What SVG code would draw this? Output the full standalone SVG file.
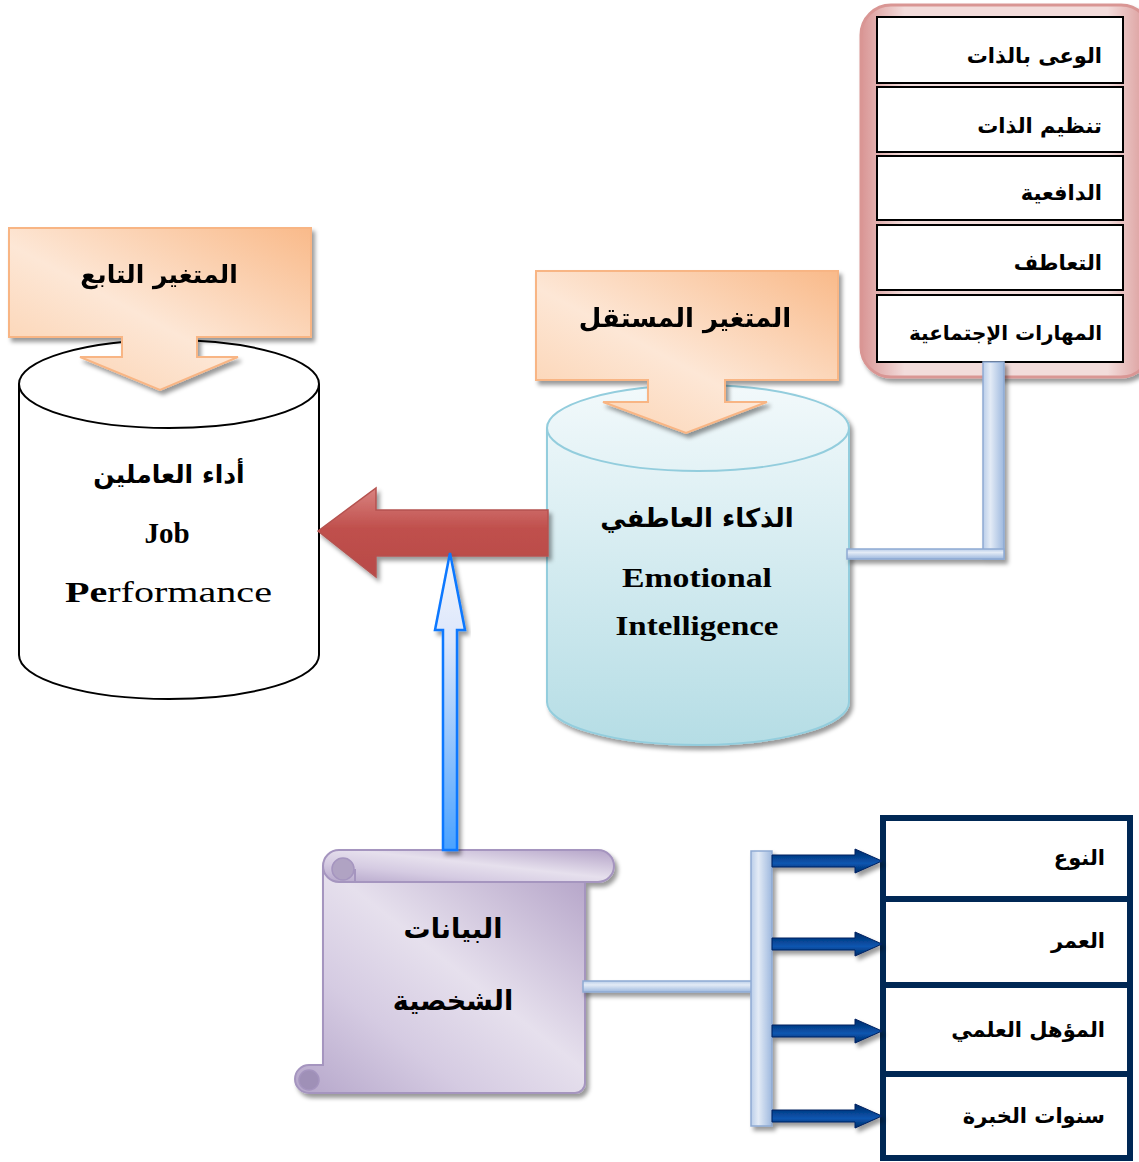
<svg xmlns="http://www.w3.org/2000/svg" width="1139" height="1162" viewBox="0 0 1139 1162">
  <style>
    .ar { font-family: "DejaVu Sans", sans-serif; font-weight: bold; fill: #000; }
    .en { font-family: "Liberation Serif", serif; fill: #000; }
    .cell { fill: #fff; stroke: #000; stroke-width: 2; }
    .navy-cell { fill: #fff; stroke: #002855; stroke-width: 6; }
    .pipe { fill: url(#pipeV); stroke: #8eaad3; stroke-width: 1.5; }
    .pipeH { fill: url(#pipeH); stroke: #8eaad3; stroke-width: 1.5; }
    .shadowed { filter: url(#shadow); }
  </style>
  <defs>
    <filter id="shadow" x="-10%" y="-10%" width="130%" height="130%">
      <feDropShadow dx="3" dy="4" stdDeviation="2" flood-color="#000" flood-opacity="0.4"/>
    </filter>
    <linearGradient id="orange" x1="1" y1="0" x2="0" y2="1">
      <stop offset="0" stop-color="#f9ba8a"/>
      <stop offset="0.55" stop-color="#fde7d6"/>
      <stop offset="1" stop-color="#fbcfab"/>
    </linearGradient>
    <linearGradient id="pink" x1="0" y1="0" x2="1" y2="0">
      <stop offset="0" stop-color="#d99594"/>
      <stop offset="0.15" stop-color="#f2dcdb"/>
      <stop offset="0.85" stop-color="#f2dcdb"/>
      <stop offset="1" stop-color="#d99594"/>
    </linearGradient>
    <linearGradient id="teal" x1="0" y1="0" x2="0" y2="1">
      <stop offset="0" stop-color="#f2f9fb"/>
      <stop offset="1" stop-color="#b5dde5"/>
    </linearGradient>
    <linearGradient id="red" x1="0" y1="0" x2="0" y2="1">
      <stop offset="0" stop-color="#d98380"/>
      <stop offset="0.45" stop-color="#c0504d"/>
      <stop offset="1" stop-color="#b84a47"/>
    </linearGradient>
    <linearGradient id="blueUp" x1="0" y1="0" x2="0" y2="1">
      <stop offset="0" stop-color="#f3f6fc"/>
      <stop offset="0.3" stop-color="#dbe6fb"/>
      <stop offset="1" stop-color="#4aa2ff"/>
    </linearGradient>
    <linearGradient id="pipeV" x1="0" y1="0" x2="1" y2="0">
      <stop offset="0" stop-color="#b9cde9"/>
      <stop offset="0.35" stop-color="#e3ebf6"/>
      <stop offset="1" stop-color="#9db8de"/>
    </linearGradient>
    <linearGradient id="pipeH" x1="0" y1="0" x2="0" y2="1">
      <stop offset="0" stop-color="#b9cde9"/>
      <stop offset="0.35" stop-color="#e3ebf6"/>
      <stop offset="1" stop-color="#9db8de"/>
    </linearGradient>
    <linearGradient id="scroll" x1="1" y1="0" x2="0" y2="1">
      <stop offset="0" stop-color="#b3a2c7"/>
      <stop offset="0.45" stop-color="#e6e0ed"/>
      <stop offset="0.7" stop-color="#d5cbe2"/>
      <stop offset="1" stop-color="#b5a6ca"/>
    </linearGradient>
    <linearGradient id="navyHead" x1="0" y1="0" x2="0" y2="1">
      <stop offset="0" stop-color="#002a66"/>
      <stop offset="0.6" stop-color="#0a56b0"/>
      <stop offset="1" stop-color="#002a66"/>
    </linearGradient>
    <path id="navyArrow" d="M0,-6 H83 V-12 L110,0 L83,12 V6 H0 Z"/>
  </defs>

  <!-- dependent variable: job performance -->
  <g id="node-job-performance">
    <path d="M19,384 V655 A150,44 0 0 0 319,655 V384 A150,44 0 0 0 19,384 Z" fill="#fff" stroke="#000" stroke-width="2"/>
    <path d="M19,384 A150,44 0 0 0 319,384" fill="none" stroke="#000" stroke-width="2"/>
    <text class="ar" x="169" y="483" font-size="25" text-anchor="middle">أداء العاملين</text>
    <text class="en" x="167" y="543" font-size="29" font-weight="bold" text-anchor="middle">Job</text>
    <text class="en" x="65" y="602" font-size="30" textLength="207" lengthAdjust="spacingAndGlyphs"><tspan font-weight="bold">Pe</tspan>rformance</text>
  </g>

  <!-- label banner: dependent variable -->
  <g id="node-dependent-label" class="shadowed">
    <path d="M9,228 H311 V337 H197 V357 H238 L160,390 L80,357 H122 V337 H9 Z" fill="url(#orange)" stroke="#f8b584" stroke-width="2"/>
    <text class="ar" x="159" y="283" font-size="25" text-anchor="middle">المتغير التابع</text>
  </g>

  <!-- independent variable: emotional intelligence -->
  <g id="node-emotional-intelligence" class="shadowed">
    <path d="M547,428 V702 A151,43 0 0 0 849,702 V428 A151,43 0 0 0 547,428 Z" fill="url(#teal)" stroke="#93cddd" stroke-width="2"/>
    <path d="M547,428 A151,43 0 0 0 849,428" fill="none" stroke="#93cddd" stroke-width="2"/>
  </g>
  <g id="node-ei-text">
    <text class="ar" x="697" y="527" font-size="26" text-anchor="middle">الذكاء العاطفي</text>
    <text class="en" x="697" y="587" font-size="28" font-weight="bold" text-anchor="middle" textLength="150" lengthAdjust="spacingAndGlyphs">Emotional</text>
    <text class="en" x="697" y="635" font-size="28" font-weight="bold" text-anchor="middle" textLength="163" lengthAdjust="spacingAndGlyphs">Intelligence</text>
  </g>

  <!-- label banner: independent variable -->
  <g id="node-independent-label" class="shadowed">
    <path d="M536,271 H838 V380 H725 V402 H767 L686,433 L603,402 H648 V380 H536 Z" fill="url(#orange)" stroke="#f8b584" stroke-width="2"/>
    <text class="ar" x="685" y="327" font-size="26" text-anchor="middle">المتغير المستقل</text>
  </g>

  <!-- emotional intelligence dimensions -->
  <g id="node-ei-dimensions">
    <rect class="shadowed" x="861" y="5" width="290" height="372" rx="30" fill="url(#pink)" stroke="#d99694" stroke-width="3"/>
    <rect class="cell" x="877" y="17" width="246" height="66"/>
    <rect class="cell" x="877" y="87" width="246" height="65"/>
    <rect class="cell" x="877" y="156" width="246" height="64"/>
    <rect class="cell" x="877" y="225" width="246" height="65"/>
    <rect class="cell" x="877" y="295" width="246" height="67"/>
    <text class="ar" x="1102" y="63" font-size="21" text-anchor="end">الوعى بالذات</text>
    <text class="ar" x="1102" y="133" font-size="21" text-anchor="end">تنظيم الذات</text>
    <text class="ar" x="1102" y="200" font-size="21" text-anchor="end">الدافعية</text>
    <text class="ar" x="1102" y="270" font-size="21" text-anchor="end">التعاطف</text>
    <text class="ar" x="1102" y="340" font-size="20" text-anchor="end">المهارات الإجتماعية</text>
  </g>

  <!-- personal data scroll -->
  <g id="node-personal-data">
    <g class="shadowed">
      <path d="M323,866 V1065 H309 A14,14 0 0 0 309,1093 H575 A10,10 0 0 0 585,1083 V870 Z" fill="url(#scroll)" stroke="#a595bf" stroke-width="2"/>
      <path d="M339,850 H598 A16,16 0 0 1 598,882 H339 A16,16 0 0 1 339,850 Z" fill="url(#scroll)" stroke="#a595bf" stroke-width="2"/>
    </g>
    <circle cx="343" cy="869" r="11" fill="#b0a3c3" stroke="#a595bf" stroke-width="1.5"/>
    <path d="M355,869 V882 H343" fill="none" stroke="#a595bf" stroke-width="2"/>
    <circle cx="309" cy="1080" r="10" fill="#9f90b7" stroke="#a595bf" stroke-width="1.5"/>
    <text class="ar" x="453" y="938" font-size="27" text-anchor="middle">البيانات</text>
    <text class="ar" x="453" y="1010" font-size="27" text-anchor="middle">الشخصية</text>
  </g>

  <!-- demographic items -->
  <g id="node-demographics">
    <rect class="navy-cell" x="883" y="818" width="247" height="81"/>
    <rect class="navy-cell" x="883" y="899" width="247" height="86"/>
    <rect class="navy-cell" x="883" y="985" width="247" height="89"/>
    <rect class="navy-cell" x="883" y="1074" width="247" height="84"/>
    <text class="ar" x="1105" y="865" font-size="21" text-anchor="end">النوع</text>
    <text class="ar" x="1105" y="948" font-size="21" text-anchor="end">العمر</text>
    <text class="ar" x="1105" y="1037" font-size="21" text-anchor="end">المؤهل العلمي</text>
    <text class="ar" x="1105" y="1123" font-size="21" text-anchor="end">سنوات الخبرة</text>
  </g>

  <!-- connectors, drawn over the nodes they attach to -->
  <g id="connectors">
    <!-- elbow pipe from the EI dimensions list to the EI cylinder -->
    <g class="shadowed">
      <rect class="pipe" x="983" y="362" width="21" height="197"/>
      <rect class="pipeH" x="847" y="549" width="157" height="10"/>
    </g>
    <!-- main effect: EI -> job performance -->
    <path class="shadowed" d="M318,531 L376,488 V510 H548 V556 H376 V577 Z" fill="url(#red)" stroke="#b5524f" stroke-width="1.5"/>
    <!-- moderating effect of personal data -->
    <path class="shadowed" d="M450,553 L465,630 H457 V850 H443 V630 H435 Z" fill="url(#blueUp)" stroke="#0a78ff" stroke-width="2.5" stroke-linejoin="miter"/>
    <!-- personal data pipe and bus bar -->
    <g class="shadowed">
      <rect class="pipeH" x="583" y="981" width="170" height="11"/>
      <rect class="pipe" x="751" y="851" width="21" height="275"/>
    </g>
    <!-- bus bar arrows to demographic items -->
    <g class="shadowed" fill="url(#navyHead)" stroke="#002060" stroke-width="1">
      <use href="#navyArrow" x="772" y="861"/>
      <use href="#navyArrow" x="772" y="944"/>
      <use href="#navyArrow" x="772" y="1031"/>
      <use href="#navyArrow" x="772" y="1116"/>
    </g>
  </g>
</svg>
